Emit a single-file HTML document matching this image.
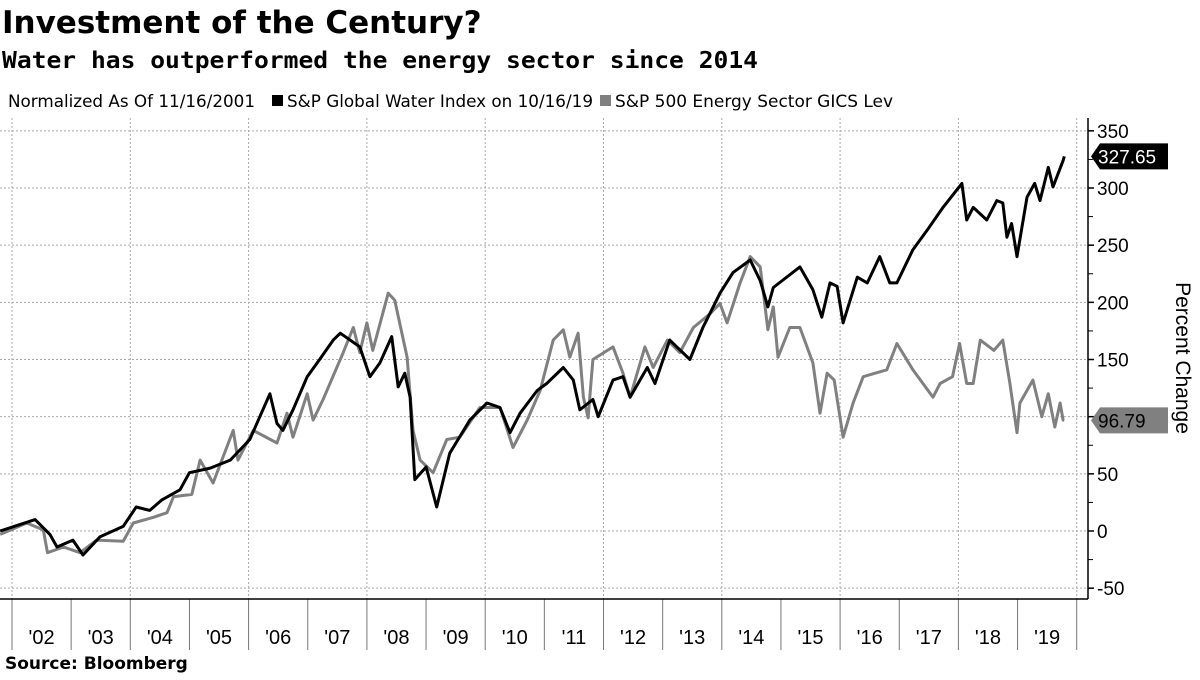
<!DOCTYPE html>
<html><head><meta charset="utf-8"><style>
body{margin:0;background:#fff;width:1200px;height:675px;overflow:hidden;font-family:"Liberation Sans",sans-serif}
</style></head><body>
<svg id="c" width="1200" height="675" xmlns="http://www.w3.org/2000/svg" font-family="Liberation Sans, DejaVu Sans, sans-serif">
<text x="2" y="33" font-size="31" font-weight="bold" font-family="DejaVu Sans, sans-serif">Investment of the Century?</text>
<text x="2" y="68" font-size="23.5" font-weight="bold" font-family="DejaVu Sans Mono, monospace" textLength="756" lengthAdjust="spacingAndGlyphs">Water has outperformed the energy sector since 2014</text>
<g font-size="17" font-family="DejaVu Sans Condensed, DejaVu Sans, sans-serif">
<text x="8" y="107" textLength="247" lengthAdjust="spacingAndGlyphs">Normalized As Of 11/16/2001</text>
<rect x="272" y="95" width="11" height="11" fill="#000"/>
<text x="287" y="107" textLength="306" lengthAdjust="spacingAndGlyphs">S&amp;P Global Water Index on 10/16/19</text>
<rect x="600" y="95" width="11" height="11" fill="#808080"/>
<text x="615" y="107" textLength="278" lengthAdjust="spacingAndGlyphs">S&amp;P 500 Energy Sector GICS Lev</text>
</g>
<g id="grid"></g>
<g id="series"></g>
<g id="axes"></g>
<text transform="translate(1176,358) rotate(90)" text-anchor="middle" font-size="21">Percent Change</text>
<text x="5" y="669" font-size="17" font-weight="bold" font-family="DejaVu Sans, sans-serif">Source: Bloomberg</text>
</svg>
<script>
const waterDates=[2001.8,2002.39,2002.64,2002.76,2003.03,2003.2,2003.49,2003.88,2004.1,2004.33,2004.53,2004.84,2005.0,2005.35,2005.69,2006.02,2006.36,2006.48,2006.58,2006.75,2006.99,2007.2,2007.43,2007.55,2007.88,2008.05,2008.22,2008.42,2008.53,2008.64,2008.73,2008.81,2009.0,2009.18,2009.4,2009.74,2010.03,2010.25,2010.42,2010.59,2010.88,2011.04,2011.32,2011.49,2011.6,2011.82,2011.91,2012.16,2012.33,2012.45,2012.74,2012.87,2013.12,2013.46,2013.68,2013.97,2014.19,2014.48,2014.65,2014.78,2014.87,2015.32,2015.54,2015.69,2015.83,2015.95,2016.05,2016.29,2016.46,2016.67,2016.84,2016.96,2017.23,2017.47,2017.74,2018.06,2018.14,2018.25,2018.48,2018.65,2018.75,2018.82,2018.9,2018.99,2019.16,2019.29,2019.38,2019.52,2019.6,2019.77,2019.79];
const waterValues=[0,10,-3,-14,-8,-21,-5,4,21,18,27,36,51,55,62,80,120,94,88,106,135,150,167,173,161,135,147,170,126,138,117,45,56,21,68,97,112,108,86,103,123,129,143,132,106,115,100,132,135,117,143,129,167,150,178,208,226,237,219,196,213,231,211,187,217,214,182,222,217,240,217,217,246,263,283,304,272,283,272,289,287,257,269,240,292,304,289,318,301,324,327.65];
const energyDates=[2001.8,2002.25,2002.53,2002.6,2002.87,2003.15,2003.43,2003.88,2004.05,2004.39,2004.62,2004.73,2005.04,2005.18,2005.4,2005.74,2005.82,2006.08,2006.48,2006.65,2006.75,2006.99,2007.09,2007.26,2007.6,2007.77,2007.88,2008.0,2008.1,2008.36,2008.47,2008.68,2008.78,2008.9,2009.12,2009.35,2009.57,2009.91,2010.25,2010.47,2010.71,2010.93,2011.15,2011.32,2011.43,2011.57,2011.66,2011.74,2011.82,2012.16,2012.33,2012.45,2012.7,2012.84,2013.08,2013.29,2013.52,2013.8,2013.97,2014.09,2014.31,2014.48,2014.65,2014.78,2014.87,2014.95,2015.15,2015.32,2015.54,2015.66,2015.78,2015.9,2016.05,2016.22,2016.39,2016.79,2016.96,2017.23,2017.57,2017.69,2017.9,2018.02,2018.14,2018.25,2018.37,2018.6,2018.75,2018.87,2018.99,2019.04,2019.26,2019.41,2019.52,2019.63,2019.72,2019.77,2019.79];
const energyValues=[-3,7,1,-19,-14,-19,-8,-9,7,12,16,30,32,62,42,88,62,88,77,103,82,120,97,115,156,178,156,182,158,208,202,152,88,62,51,80,82,108,108,73,97,123,167,176,152,173,117,99,150,161,138,117,161,143,167,156,178,190,199,182,217,240,231,176,196,152,178,178,147,103,138,132,82,112,135,141,164,141,117,129,135,164,129,129,167,158,167,129,86,112,132,100,120,91,112,97,96.79];
const yTicks=[-50,0,50,100,150,200,250,300,350];
const yearLabels=["'02","'03","'04","'05","'06","'07","'08","'09","'10","'11","'12","'13","'14","'15","'16","'17","'18","'19"];

const NS="http://www.w3.org/2000/svg";
const xS=t=>12+(t-2002)*59.15;
const yS=v=>531-v*1.1433;
const AX=1088, AY=599;
function mk(tag,attrs,parent){const e=document.createElementNS(NS,tag);for(const k in attrs)e.setAttribute(k,attrs[k]);parent.appendChild(e);return e;}
const grid=document.getElementById('grid'),series=document.getElementById('series'),axes=document.getElementById('axes');
yTicks.forEach((v,i)=>{
  const l=mk('line',{x1:0,x2:AX,y1:yS(v),y2:yS(v),stroke:'#aaa','stroke-width':1,'stroke-dasharray':'2,2'},grid);
  
  
  const t=mk('line',{x1:AX,x2:AX+6,y1:yS(v),y2:yS(v),stroke:'#000','stroke-width':1.5},axes);
  
  
  if(i<yTicks.length-1){
    const m=mk('line',{x1:AX,x2:AX+5,y1:yS(v+25),y2:yS(v+25),stroke:'#000','stroke-width':1},axes);
    
    
  }
  const tx=mk('text',{x:AX+9,y:yS(v)+7,'font-size':19},axes);
  tx.textContent=v;
  
  
});
for(let y=2002;y<=2020;y+=2){
  const l=mk('line',{x1:xS(y),x2:xS(y),y1:118,y2:AY,stroke:'#aaa','stroke-width':1,'stroke-dasharray':'2,2'},grid);
  
  
}
yearLabels.forEach((lab,i)=>{
  const t=mk('line',{x1:xS(2002+i),x2:xS(2002+i),y1:AY,y2:650,stroke:'#777','stroke-width':1},axes);
  
  
  const tx=mk('text',{x:xS(2002.5+i),y:644,'font-size':20,'text-anchor':'middle'},axes);
  tx.textContent=lab;
  
  
});
const tl=mk('line',{x1:xS(2020),x2:xS(2020),y1:AY,y2:650,stroke:'#777','stroke-width':1},axes);


const xa=mk('line',{x1:0,x2:AX,y1:AY,y2:AY,stroke:'#000','stroke-width':1.5},axes);


const ya=mk('line',{x1:AX,x2:AX,y1:118,y2:AY,stroke:'#000','stroke-width':1.5},axes);



function path(d,v){return d.map((t,i)=>(i?'L':'M')+xS(t).toFixed(1)+','+yS(v[i]).toFixed(1)).join('');}
const pe=mk('path',{d:path(energyDates,energyValues),fill:'none',stroke:'#808080','stroke-width':3,'stroke-linejoin':'round'},series);


const pw=mk('path',{d:path(waterDates,waterValues),fill:'none',stroke:'#000','stroke-width':3,'stroke-linejoin':'round'},series);



function tag(v,fill,txt,name){
  const y=yS(v);
  const p=mk('path',{d:`M${AX+3},${y} L${AX+12},${y-13} H1168 V${y+13} H${AX+12} Z`,fill:fill},axes);
  
  
  const t=mk('text',{x:AX+10,y:y+7,'font-size':19,fill:txt},axes);
  t.textContent=v.toFixed(2);
  
  
}
tag(waterValues[waterValues.length-1],'#000','#fff','water-last-value-tag');
tag(energyValues[energyValues.length-1],'#808080','#000','energy-last-value-tag');
</script>
</body></html>
